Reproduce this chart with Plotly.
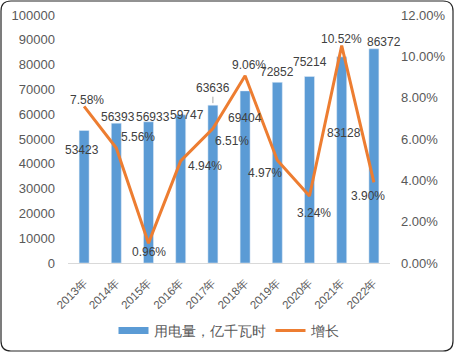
import plotly.graph_objects as go

years = ["2013年", "2014年", "2015年", "2016年", "2017年", "2018年", "2019年", "2020年", "2021年", "2022年"]
usage = [53423, 56393, 56933, 59747, 63636, 69404, 72852, 75214, 83128, 86372]
growth = [0.0758, 0.0556, 0.0096, 0.0494, 0.0651, 0.0906, 0.0497, 0.0324, 0.1052, 0.0390]
usage_name = "用电量，亿千瓦时"
growth_name = "增长"

# label offsets (pixels) in Excel-like placement
bar_shift = [(-2, -19), (2, 6), (4, 5), (6, 0), (0, 17), (0, -27), (0, 10), (0, 14), (2, -76), (10, 7)]
line_shift = [(3, 6), (22, 11), (0, -9), (24, -5), (19, -13), (4, 11), (-12, -13), (4, -17), (0, 7), (-6, -14)]

BLUE = "#5B9BD5"
ORANGE = "#ED7D31"
FONT = "Liberation Sans"

W, H = 454, 352
L, R, T, B = 68, 64, 15, 89
pw, ph = W - L - R, H - T - B

fig = go.Figure()
fig.add_trace(go.Bar(x=years, y=usage, name=usage_name, marker_color=BLUE,
                     width=0.31, showlegend=False))
fig.add_trace(go.Scatter(x=years, y=growth, name=growth_name, yaxis="y2",
                         mode="lines", line=dict(color=ORANGE, width=3), showlegend=False))
# legend entries
fig.add_trace(go.Scatter(x=[years[0]], y=[None], mode="lines", name=usage_name,
                         line=dict(color=BLUE, width=7)))
fig.add_trace(go.Scatter(x=[years[0]], y=[None], mode="lines", name=growth_name,
                         line=dict(color=ORANGE, width=3)))

LBL = dict(family=FONT, size=12, color="#404040")
ann = []
for i, (yr, v) in enumerate(zip(years, usage)):
    dx, dy = bar_shift[i]
    a = dict(x=yr, y=v, xref="x", yref="y", text=str(v), showarrow=False,
             xshift=dx, yshift=dy, font=LBL)
    if i == 4:
        a.update(showarrow=True, arrowhead=0, arrowwidth=1, arrowcolor="#A6A6A6",
                 ax=dx, ay=-dy, xshift=0, yshift=0, standoff=2)
    ann.append(a)
for i, (yr, g) in enumerate(zip(years, growth)):
    dx, dy = line_shift[i]
    ann.append(dict(x=yr, y=g, xref="x", yref="y2", text=f"{g*100:.2f}%", showarrow=False,
                    xshift=dx, yshift=dy, font=LBL))

def px(x):
    return (x - L) / pw

def py(y):
    return (H - B - y) / ph

r = 10
x0, x1, y0, y1 = 1, W - 1, 1, H - 1
path = (f"M {px(x0 + r)},{py(y0)} L {px(x1 - r)},{py(y0)} Q {px(x1)},{py(y0)} {px(x1)},{py(y0 + r)} "
        f"L {px(x1)},{py(y1 - r)} Q {px(x1)},{py(y1)} {px(x1 - r)},{py(y1)} "
        f"L {px(x0 + r)},{py(y1)} Q {px(x0)},{py(y1)} {px(x0)},{py(y1 - r)} "
        f"L {px(x0)},{py(y0 + r)} Q {px(x0)},{py(y0)} {px(x0 + r)},{py(y0)} Z")

fig.update_layout(
    width=W, height=H,
    margin=dict(l=L, r=R, t=T, b=B, autoexpand=False),
    paper_bgcolor="white", plot_bgcolor="white",
    font=dict(family=FONT, color="#595959"),
    annotations=ann,
    shapes=[dict(type="path", path=path, xref="paper", yref="paper",
                 line=dict(color="#262626", width=1.2), layer="above")],
    xaxis=dict(type="category", categoryarray=years, categoryorder="array",
               range=[-0.5, len(years) - 0.5], showline=True, linecolor="#D9D9D9", linewidth=1,
               tickangle=-45, tickfont=dict(size=11.5, color="#595959"), showgrid=False,
               ticks="", automargin=False, ticklabelstandoff=7),
    yaxis=dict(range=[0, 100000], dtick=10000, tickformat="d", showgrid=False, zeroline=False,
               tickfont=dict(size=13, color="#595959"), ticklabelstandoff=12, automargin=False),
    yaxis2=dict(range=[0, 0.12], dtick=0.02, tickformat=".2%", overlaying="y", side="right",
                showgrid=False, zeroline=False, tickfont=dict(size=13, color="#595959"),
                ticklabelstandoff=10, automargin=False),
    legend=dict(orientation="h", x=0.5, xanchor="center", y=py(331), yanchor="middle",
                font=dict(size=14, color="#595959"), itemwidth=30),
    showlegend=True,
)

fig.write_html("out.html")
